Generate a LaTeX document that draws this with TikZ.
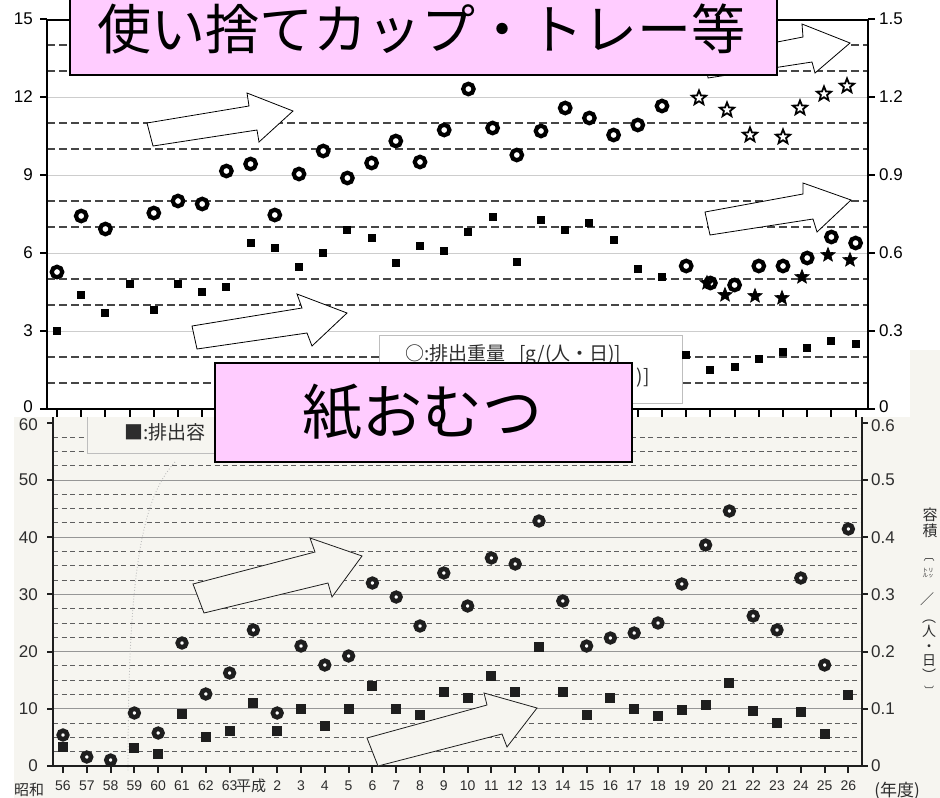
\documentclass[tikz,border=0pt]{standalone}
\usepackage{fontspec}
\setmainfont{Liberation Sans}
\newfontfamily\jp{Noto Sans CJK JP}
\usetikzlibrary{shapes.geometric}
\definecolor{paper}{RGB}{246,245,240}
\definecolor{pinkfill}{RGB}{255,204,255}
\definecolor{markdark}{RGB}{30,30,30}
\definecolor{tsolid}{RGB}{205,205,205}
\definecolor{tdash}{RGB}{70,70,70}
\definecolor{bsolid}{RGB}{150,150,150}
\definecolor{bdash}{RGB}{95,95,95}
\definecolor{labgray}{RGB}{45,45,45}
\begin{document}
\begin{tikzpicture}[x=1pt,y=-1pt,
  tgridsolid/.style={draw=tsolid, line width=1pt},
  tgriddash/.style={draw=tdash, line width=1.1pt, dash pattern=on 8pt off 4pt},
  bgridsolid/.style={draw=bsolid, line width=1pt},
  bgriddash/.style={draw=bdash, line width=1pt, dash pattern=on 5pt off 3.5pt},
  taxis/.style={draw=black, line width=2.6pt},
  baxis/.style={draw=markdark, line width=2.6pt},
  tnum/.style={font=\fontsize{17}{17}\selectfont, text=black, inner sep=0pt},
  bnum/.style={font=\fontsize{17}{17}\selectfont, text=labgray, inner sep=0pt},
  xnum/.style={font=\fontsize{14}{14}\selectfont, text=labgray, inner sep=0pt},
  jplab/.style={font=\jp\fontsize{15}{15}\selectfont, text=labgray, inner sep=0pt},
  tcirc/.style={circle, draw=black, line width=4.2pt, fill=white, minimum size=10.5pt, inner sep=0pt},
  bcirc/.style={circle, draw=markdark, line width=4.6pt, fill=white, minimum size=8.6pt, inner sep=0pt},
  tsq/.style={rectangle, fill=black, minimum size=8pt, inner sep=0pt},
  bsq/.style={rectangle, fill=markdark, minimum size=10pt, inner sep=0pt},
  hstar/.style={star, star points=5, star point ratio=2.3, draw=black, line width=1.8pt, fill=white, minimum size=15pt, inner sep=0pt},
  fstar/.style={star, star points=5, star point ratio=2.3, draw=black, line width=0.6pt, fill=black, minimum size=15pt, inner sep=0pt},
  tarrow/.style={draw=black, line width=0.8pt, fill=white, line join=miter},
  barrow/.style={draw=markdark, line width=0.8pt, fill=paper, line join=miter},
  legbox/.style={draw={rgb,255:red,190;green,190;blue,190}, line width=0.8pt},
  legtext/.style={font=\jp\fontsize{19}{19}\selectfont, text=labgray, inner sep=0pt},
  titlebox/.style={draw=black, line width=1.3pt, fill=pinkfill, inner sep=0pt},
  vl/.style={font=\jp\fontsize{15}{16}\selectfont, text=labgray, inner sep=0pt, align=center}
]
\useasboundingbox (0,0) rectangle (940,798);
\fill[white] (0,0) rectangle (940,798);

% ================= bottom chart (紙おむつ) =================
\fill[paper] (14,350) rectangle (940,798);
\foreach \v in {10,20,30,40,50}
  \draw[bgridsolid] (53,{766-5.72*\v}) -- (862,{766-5.72*\v});
\foreach \v in {2.5,5,7.5,12.5,15,17.5,22.5,25,27.5,32.5,35,37.5,42.5,45,47.5,52.5,55,57.5}
  \draw[bgriddash] (53,{766-5.72*\v}) -- (862,{766-5.72*\v});
\draw[draw={rgb,255:red,190;green,190;blue,190}, line width=0.9pt, dotted] (175,462) .. controls (140,500) and (128,580) .. (128,772);
% legend box of the lower chart
\draw[legbox, fill=paper] (87,405) rectangle (400,453);
\node[legtext, anchor=west] (bleg) at (124,432) {■:排出容};
% axes
\draw[baxis] (53,417) -- (53,766) -- (862,766);
\draw[baxis] (862,417) -- (862,766);
\foreach \v in {0,10,20,30,40,50,60} {
  \draw[baxis, line width=2pt] (47,{766-5.72*\v}) -- (53,{766-5.72*\v});
  \draw[baxis, line width=2pt] (862,{766-5.72*\v}) -- (868,{766-5.72*\v});
}
\foreach \i in {0,...,33}
  \draw[baxis, line width=2pt] ({63+23.8*\i},766) -- ({63+23.8*\i},773);
\foreach \v in {0,10,20,30,40,50}
  \node[bnum, anchor=east] (bl\v) at (38,{766-5.72*\v}) {\v};
\node[bnum, anchor=east] (bl60) at (38,425) {60};
\foreach \v/\t in {0/0,10/0.1,20/0.2,30/0.3,40/0.4,50/0.5}
  \node[bnum, anchor=west] (br\v) at (871,{766-5.72*\v}) {\t};
\node[bnum, anchor=west] (br60) at (871,426) {0.6};
\foreach \i/\t in {0/56,1/57,2/58,3/59,4/60,5/61,6/62,7/63,9/2,10/3,11/4,12/5,13/6,14/7,15/8,16/9,17/10,18/11,19/12,20/13,21/14,22/15,23/16,24/17,25/18,26/19,27/20,28/21,29/22,30/23,31/24,32/25,33/26}
  \node[xnum] (bx\i) at ({63+23.8*\i},786) {\t};
\node[jplab] (bx8) at (251,786) {平成};
\node[jplab] (showa) at (29,790) {昭和};
\node[font=\jp\fontsize{17}{17}\selectfont, text=labgray, inner sep=0pt] (nendo) at (897,791) {(年度)};
% vertical unit label
\node[vl] (v1) at (930,523) {容\\積};
\node[vl, font=\jp\fontsize{11}{11}\selectfont] (v3) at (929,560) {︹};
\node[vl, font=\jp\fontsize{5.5}{5.5}\selectfont] (v4) at (928,573) {トリ\\[-1pt]ルッ};
\node[vl, font=\jp\fontsize{14}{14}\selectfont] (v5) at (927,599) {／};
\node[vl, font=\jp\fontsize{14}{14.5}\selectfont] (v6) at (929,650) {︵\\人\\・\\日\\︶};
\node[vl, font=\jp\fontsize{10}{10}\selectfont] (v11) at (929,690) {︺};
% arrows
\draw[barrow] (193,584) -- (315,552) -- (310,538) -- (362,556) -- (332,597) -- (328,583) -- (204,613) -- cycle;
\draw[barrow] (367,738) -- (487,705) -- (484,693) -- (537,708) -- (507,747) -- (502,734) -- (378,766) -- cycle;
\foreach \i/\y in {0/747,3/748,4/754,5/714,6/737,7/731,8/703,9/731,10/709,11/726,12/709,13/686,14/709,15/715,16/692,17/698,18/676,19/692,20/647,21/692,22/715,23/698,24/709,25/716,26/710,27/705,28/683,29/711,30/723,31/712,32/734,33/695}
  \node[bsq] (bs\i) at ({63+23.8*\i},\y) {};
\foreach \i/\y in {0/735,1/757,2/760,3/713,4/733,5/643,6/694,7/673,8/630,9/713,10/646,11/665,12/656,13/583,14/597,15/626,16/573,17/606,18/558,19/564,20/521,21/601,22/646,23/638,24/633,25/623,26/584,27/545,28/511,29/616,30/630,31/578,32/665,33/529}
  \node[bcirc] (bc\i) at ({63+23.8*\i},\y) {};

% ================= top chart (使い捨てカップ・トレー等) =================
\fill[white] (0,0) rectangle (910,417);
\foreach \v in {3,6,9,12}
  \draw[tgridsolid] (47,{409-26*\v}) -- (868,{409-26*\v});
\foreach \v in {1,2,4,5,7,8,10,11,13,14}
  \draw[tgriddash] (47,{409-26*\v}) -- (868,{409-26*\v});
% legend
\draw[legbox, fill=white] (379,335) rectangle (682,403);
\node[legtext, anchor=west] (tleg1) at (405,355) {○:排出重量\hspace{14pt}[g/(人・日)]};
\node[legtext, anchor=east] (tleg2) at (650,378) {)]};
% frame
\draw[taxis] (47,20) -- (868,20);
\draw[taxis] (47,20) -- (47,409) -- (868,409) -- (868,20);
\foreach \v in {0,3,6,9,12,15} {
  \draw[taxis, line width=2pt] (40,{409-26*\v}) -- (47,{409-26*\v});
  \draw[taxis, line width=2pt] (868,{409-26*\v}) -- (875,{409-26*\v});
}
\foreach \i in {0,...,33}
  \draw[taxis, line width=2pt] ({57+24.2*\i},409) -- ({57+24.2*\i},417);
\foreach \v in {3,6,9,12,15}
  \node[tnum, anchor=east] (tl\v) at (33,{409-26*\v}) {\v};
\node[tnum, anchor=east] (tl0) at (33,407) {0};
\foreach \v/\t in {3/0.3,6/0.6,9/0.9,12/1.2,15/1.5}
  \node[tnum, anchor=west] (tr\v) at (879,{409-26*\v}) {\t};
\node[tnum, anchor=west] (tr0) at (879,407) {0};
% arrows
\draw[tarrow] (147,123) -- (249,106) -- (247,93) -- (293,111) -- (259,142) -- (257,130) -- (153,146) -- cycle;
\draw[tarrow] (192,326) -- (302,308) -- (297,294) -- (347,313) -- (312,346) -- (307,333) -- (197,349) -- cycle;
\draw[tarrow] (705,56) -- (803,37) -- (802,24) -- (850,43) -- (815,73) -- (812,62) -- (708,78) -- cycle;
\draw[tarrow] (705,212) -- (803,194) -- (803,183) -- (851,200) -- (817,232) -- (813,219) -- (710,235) -- cycle;
\foreach \i/\y in {0/331,1/295,2/313,3/284,4/310,5/284,6/292,7/287,8/243,9/248,10/267,11/253,12/230,13/238,14/263,15/246,16/251,17/232,18/217,19/262,20/220,21/230,22/223,23/240,24/269,25/277,26/355,27/370,28/367,29/359,30/352,31/348,32/341,33/344}
  \node[tsq] (ts\i) at ({57+24.2*\i},\y) {};
\foreach \i/\y in {0/272,1/216,2/229,4/213,5/201,6/204,7/171,8/164,9/215,10/174,11/151,12/178,13/163,14/141,15/162,16/130,17/89,18/128,19/155,20/131,21/108,22/118,23/135,24/125,25/106,26/266,27/283,28/285,29/266,30/266,31/258,32/237,33/243}
  \node[tcirc] (tc\i) at ({57+24.2*\i},\y) {};
\foreach \k/\x/\y in {1/699/98,2/727/110,3/750/135,4/783/137,5/800/108,6/824/94,7/847/86}
  \node[hstar] (hs\k) at (\x,\y) {};
\foreach \k/\x/\y in {1/707/283,2/725/295,3/755/296,4/782/298,5/802/277,6/828/255,7/850/260}
  \node[fstar] (fs\k) at (\x,\y) {};

% ================= title boxes =================
\node[titlebox, minimum width=707pt, minimum height=78pt] (box1) at (423.5,36) {};
\node[font=\jp\fontsize{54}{54}\selectfont, inner sep=0pt] (title1) at (421,29) {使い捨てカップ・トレー等};
\node[titlebox, minimum width=417pt, minimum height=99pt] (box2) at (423.5,412.5) {};
\node[font=\jp\fontsize{60}{60}\selectfont, inner sep=0pt] (title2) at (422,412) {紙おむつ};
\end{tikzpicture}
\end{document}
